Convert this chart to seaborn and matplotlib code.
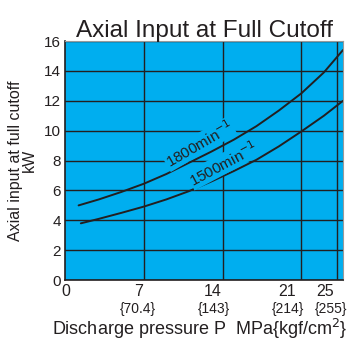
#Importing required libraries
import pandas as pd
import matplotlib
matplotlib.use('Agg')
import matplotlib.pyplot as plt
import seaborn as sns

# Curve data (pressure MPa vs axial input kW)
p_1800 = [1.2, 3, 5, 7, 9, 11, 13, 15, 17, 19, 21, 23, 24.7]
kw_1800 = [5.0, 5.4, 5.9, 6.45, 7.1, 7.85, 8.6, 9.4, 10.3, 11.35, 12.5, 13.9, 15.4]
p_1500 = [1.4, 3, 5, 7, 9, 11, 13, 15, 17, 19, 21, 23, 24.7]
kw_1500 = [3.8, 4.1, 4.5, 4.92, 5.4, 5.95, 6.6, 7.3, 8.05, 8.95, 9.95, 11.0, 12.0]

# the printed chart's grid lines and its tick labels do not sit at the same spots
x_grid = [7, 14, 21, 24.2]
x_label_pos = [0.1, 6.55, 13.15, 19.75, 23.1]
x_labels = ['0', '7', '14', '21', '25']
x_sub_pos = [6.5, 13.2, 19.8, 23.6]
x_sub_labels = ['{70.4}', '{143}', '{214}', '{255}']
y_ticks = [0, 2, 4, 6, 8, 10, 12, 14, 16]

df = pd.concat([
    pd.DataFrame({'P': p_1800, 'kW': kw_1800, 'speed': '1800'}),
    pd.DataFrame({'P': p_1500, 'kW': kw_1500, 'speed': '1500'}),
])

#Set visual style
sns.set_style("white")
plt.rcParams['font.family'] = ['Liberation Sans', 'DejaVu Sans']
blue = '#00AEEF'
ink = '#231f20'

fig = plt.figure(figsize=(3.5, 3.42), dpi=100)
ax = fig.add_axes([0.186, 0.181, 0.794, 0.699])
ax.set_facecolor(blue)

sns.lineplot(data=df, x='P', y='kW', units='speed', estimator=None,
             color=ink, lw=1.4, ax=ax, legend=False)

ax.set_xlim(0, 24.7)
ax.set_ylim(0, 16)
ax.set_xticks(x_label_pos)
ax.set_xticklabels(x_labels, fontsize=11.5, color=ink)
ax.set_xticks(x_grid, minor=True)
ax.set_yticks(y_ticks)
ax.set_yticklabels([str(v) for v in y_ticks], fontsize=11, color=ink)
ax.tick_params(which='both', length=0, pad=3)
ax.grid(True, axis='y', color=ink, lw=1.0)
ax.grid(True, axis='x', which='minor', color=ink, lw=1.0)
ax.grid(False, axis='x', which='major')

for sp in ['left', 'bottom']:
    ax.spines[sp].set_color(ink)
    ax.spines[sp].set_linewidth(1.2)
for sp in ['top', 'right']:
    ax.spines[sp].set_color('#999999')
    ax.spines[sp].set_linewidth(0.8)

# secondary kgf/cm2 labels under the ticks
for xt, lab in zip(x_sub_pos, x_sub_labels):
    ax.text(xt, -0.09, lab, transform=ax.get_xaxis_transform(),
            ha='center', va='top', fontsize=10, color=ink)

# curve labels
box = dict(facecolor=blue, edgecolor='none', pad=0.5)
ax.text(11.9, 9.1, '1800min$^{-1}$', rotation=30, ha='center', va='center',
        fontsize=11, color=ink, bbox=box)
ax.text(14.1, 7.8, '1500min$^{-1}$', rotation=28, ha='center', va='center',
        fontsize=11, color=ink, bbox=box)

ax.set_title('Axial Input at Full Cutoff', fontsize=17.5, color=ink, pad=3)
ax.set_xlabel('Discharge pressure P  MPa{kgf/cm$^2$}', fontsize=13,
              color=ink, labelpad=13)
ax.xaxis.label.set_x(0.485)
ax.set_ylabel('Axial input at full cutoff\nkW', fontsize=11.5,
              color=ink, linespacing=0.95, labelpad=5)

plt.savefig('out.png', dpi=100)
